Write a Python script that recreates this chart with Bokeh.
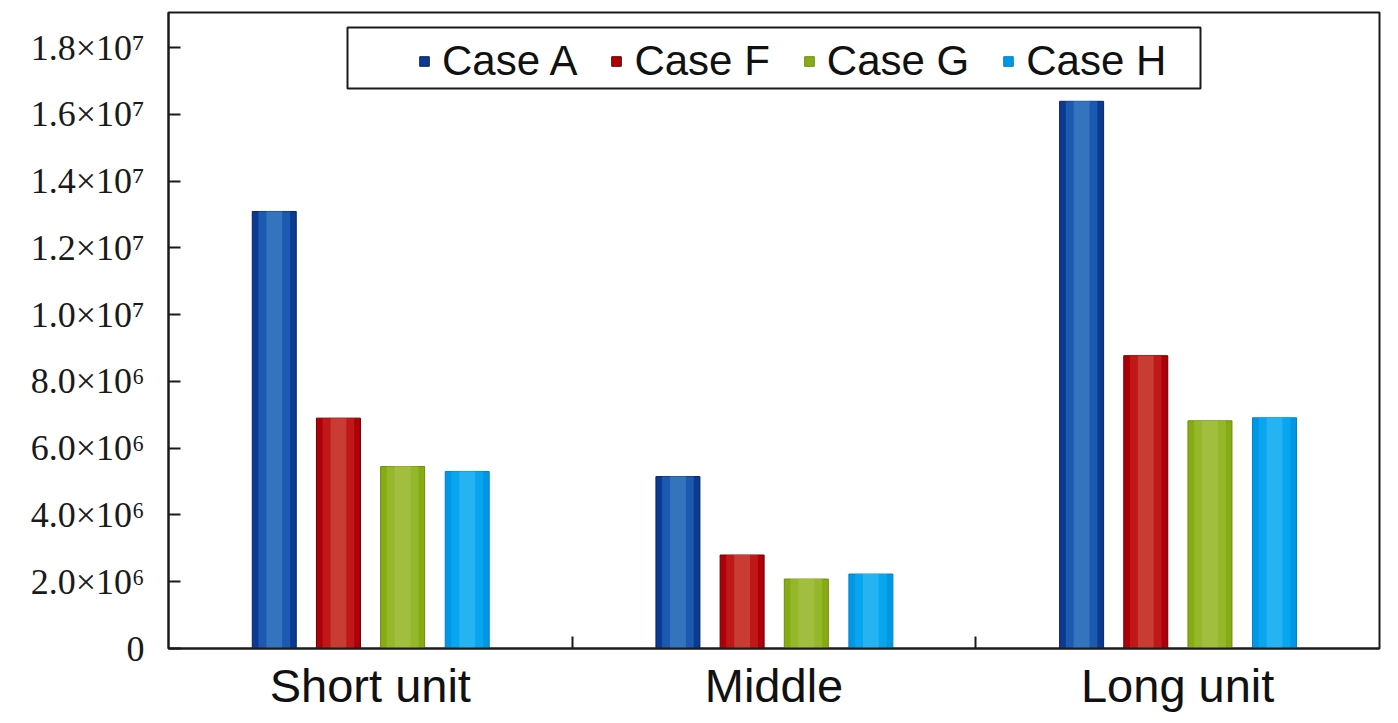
from bokeh.plotting import figure
from bokeh.models import (FactorRange, Range1d, FixedTicker, LinearAxis, CategoricalAxis,
                          Legend, LegendItem, BoxAnnotation, ColumnDataSource)
from bokeh.transform import dodge
from bokeh.embed import file_html
from bokeh.resources import INLINE

# ---- data ----
groups = ["Short unit", "Middle", "Long unit"]
cases = ["Case A", "Case F", "Case G", "Case H"]
case_a = [13.09e6, 5.15e6, 16.39e6]
case_f = [6.90e6, 2.80e6, 8.77e6]
case_g = [5.45e6, 2.08e6, 6.82e6]
case_h = [5.30e6, 2.23e6, 6.91e6]
y_ticks = [0, 2e6, 4e6, 6e6, 8e6, 10e6, 12e6, 14e6, 16e6, 18e6]
y_tick_labels = ["0", "2.0×10⁶", "4.0×10⁶", "6.0×10⁶", "8.0×10⁶",
                 "1.0×10⁷", "1.2×10⁷", "1.4×10⁷", "1.6×10⁷", "1.8×10⁷"]

# ---- style ----
offsets = [-0.238, -0.079, 0.080, 0.240]
bar_w = 0.109
# (edge, mid, centre) shades to imitate the gradient fill
shades = [
    ("#0A3A92", "#1B5AAE", "#3474BF"),
    ("#AE0008", "#C01818", "#C83C34"),
    ("#86AC14", "#95B82A", "#A2BE3E"),
    ("#0098E4", "#08A6EE", "#26B3F2"),
]
edge_lines = ["#0A2560", "#6A0000", "#6E8A10", "#0080C8"]

source = ColumnDataSource(data=dict(group=groups, a=case_a, f=case_f, g=case_g, h=case_h))
cols = ["a", "f", "g", "h"]

p = figure(x_range=FactorRange(*groups, range_padding=0),
           y_range=Range1d(0, 1.905e7),
           width=1390, height=714,
           x_axis_location=None,
           output_backend="svg", toolbar_location=None,
           min_border_left=168, min_border_right=11,
           min_border_top=12, min_border_bottom=66)
p.background_fill_color = "white"
p.border_fill_color = "white"
p.outline_line_color = "#1a1a1a"
p.outline_line_width = 2
p.xgrid.visible = False
p.ygrid.visible = False

outer_renderers = []
for i, col in enumerate(cols):
    edge, mid, cen = shades[i]
    r = p.vbar(x=dodge("group", offsets[i], range=p.x_range), top=col, bottom=0,
               width=bar_w, source=source, fill_color=edge,
               line_color=edge_lines[i], line_width=1)
    outer_renderers.append(r)
    p.vbar(x=dodge("group", offsets[i], range=p.x_range), top=col, bottom=0,
           width=bar_w * 0.72, source=source, fill_color=mid, line_color=None)
    p.vbar(x=dodge("group", offsets[i], range=p.x_range), top=col, bottom=0,
           width=bar_w * 0.36, source=source, fill_color=cen, line_color=None)

# y axis
yax = p.yaxis[0]
yax.ticker = FixedTicker(ticks=y_ticks)
yax.major_label_overrides = {t: l for t, l in zip(y_ticks, y_tick_labels)}
yax.major_label_text_font = "Liberation Serif"
yax.major_label_text_font_size = "36px"
yax.major_label_text_color = "#1a1a1a"
yax.major_tick_in = 12
yax.major_tick_out = 0
yax.minor_tick_line_color = None
yax.major_tick_line_width = 2
yax.axis_line_width = 2
yax.axis_line_color = "#1a1a1a"
yax.major_tick_line_color = "#1a1a1a"
yax.major_label_standoff = 24

# x axis: boundary ticks + category labels
boundaries = list(range(1, len(groups)))
tick_axis = LinearAxis(ticker=FixedTicker(ticks=boundaries),
                       major_label_overrides={b: "" for b in boundaries},
                       major_label_text_font_size="1px", major_label_standoff=0,
                       major_tick_in=12, major_tick_out=0,
                       major_tick_line_width=2, major_tick_line_color="#1a1a1a",
                       axis_line_width=2, axis_line_color="#1a1a1a",
                       minor_tick_line_color=None)
label_axis = CategoricalAxis(major_label_text_font="Liberation Sans",
                             major_label_text_font_size="47px",
                             major_label_text_color="#111111",
                             major_label_standoff=4,
                             axis_line_color=None, major_tick_line_color=None,
                             minor_tick_line_color=None)
p.add_layout(tick_axis, "below")
p.add_layout(label_axis, "below")

# legend
legend = Legend(items=[LegendItem(label=c, renderers=[r]) for c, r in zip(cases, outer_renderers)],
                orientation="horizontal", location=(250, 563),
                label_text_font="Liberation Sans", label_text_font_size="42px",
                label_text_color="#111111",
                glyph_width=12, glyph_height=12, label_standoff=12, spacing=33,
                padding=0, margin=0, border_line_alpha=0, background_fill_alpha=0)
p.add_layout(legend, "center")

box = BoxAnnotation(left=347, right=1200, top=27, bottom=88,
                    left_units="canvas", right_units="canvas",
                    top_units="canvas", bottom_units="canvas",
                    fill_alpha=0, line_color="#1a1a1a", line_alpha=1.0, line_width=2)
p.add_layout(box)

open("out.html", "w").write(file_html(p, INLINE))
